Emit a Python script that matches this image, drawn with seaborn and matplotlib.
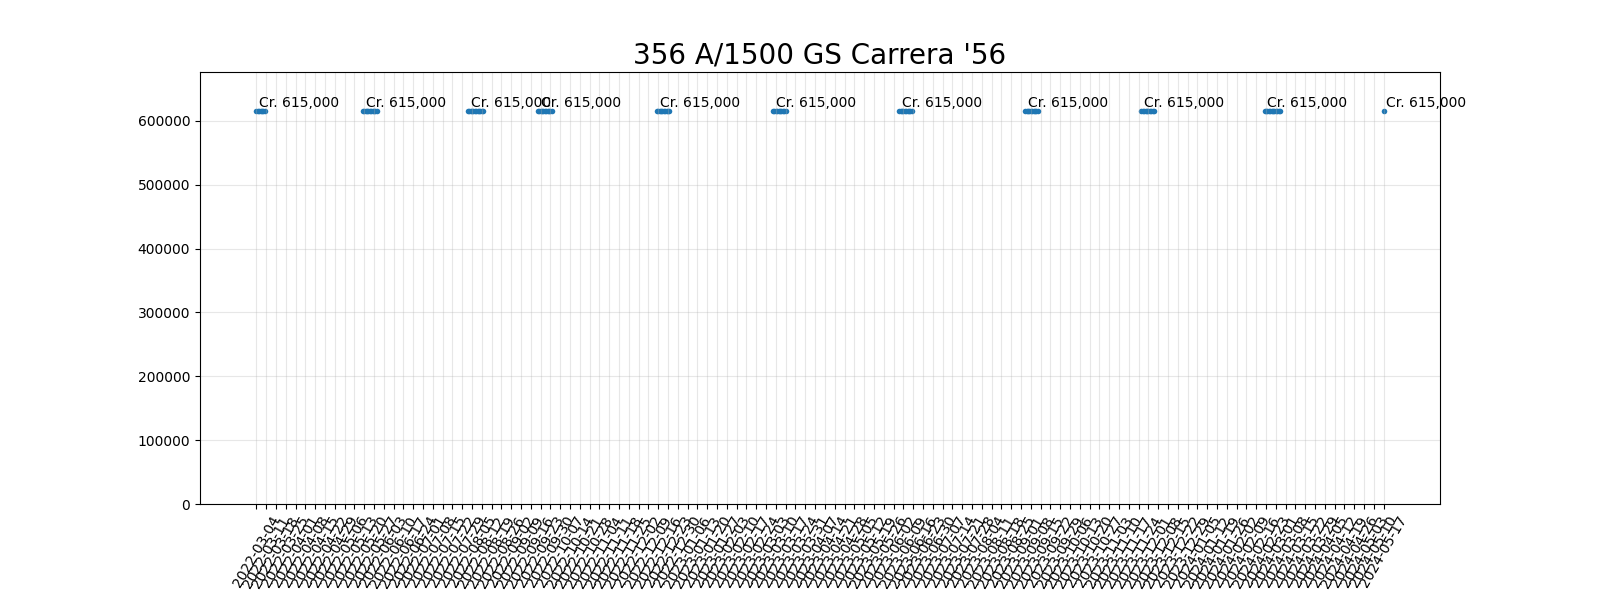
import matplotlib
matplotlib.use("Agg")
import matplotlib.pyplot as plt
import numpy as np
import pandas as pd
import seaborn as sns

title = "356 A/1500 GS Carrera '56"
price = 615000

cluster_dates = [
    ["2022-03-04", "2022-03-05", "2022-03-06", "2022-03-07", "2022-03-08", "2022-03-09", "2022-03-10"],
    ["2022-05-19", "2022-05-20", "2022-05-21", "2022-05-22", "2022-05-23", "2022-05-24", "2022-05-25",
     "2022-05-26", "2022-05-27", "2022-05-28", "2022-05-29"],
    ["2022-08-02", "2022-08-03", "2022-08-04", "2022-08-05", "2022-08-06", "2022-08-07", "2022-08-08",
     "2022-08-09", "2022-08-10", "2022-08-11", "2022-08-12", "2022-08-13"],
    ["2022-09-21", "2022-09-22", "2022-09-23", "2022-09-24", "2022-09-25", "2022-09-26", "2022-09-27",
     "2022-09-28", "2022-09-29", "2022-09-30", "2022-10-01"],
    ["2022-12-15", "2022-12-16", "2022-12-17", "2022-12-18", "2022-12-19", "2022-12-20", "2022-12-21",
     "2022-12-22", "2022-12-23", "2022-12-24"],
    ["2023-03-08", "2023-03-09", "2023-03-10", "2023-03-11", "2023-03-12", "2023-03-13", "2023-03-14",
     "2023-03-15", "2023-03-16", "2023-03-17"],
    ["2023-06-06", "2023-06-07", "2023-06-08", "2023-06-09", "2023-06-10", "2023-06-11", "2023-06-12",
     "2023-06-13", "2023-06-14", "2023-06-15"],
    ["2023-09-04", "2023-09-05", "2023-09-06", "2023-09-07", "2023-09-08", "2023-09-09", "2023-09-10",
     "2023-09-11", "2023-09-12", "2023-09-13"],
    ["2023-11-26", "2023-11-27", "2023-11-28", "2023-11-29", "2023-11-30", "2023-12-01", "2023-12-02",
     "2023-12-03", "2023-12-04", "2023-12-05"],
    ["2024-02-22", "2024-02-23", "2024-02-24", "2024-02-25", "2024-02-26", "2024-02-27", "2024-02-28",
     "2024-02-29", "2024-03-01", "2024-03-02", "2024-03-03", "2024-03-04"],
    ["2024-05-17"],
]

tick_labels = [
    "2022-03-04", "2022-03-11", "2022-03-18", "2022-03-25", "2022-04-01", "2022-04-08", "2022-04-15",
    "2022-04-22", "2022-04-29", "2022-05-06", "2022-05-13", "2022-05-20", "2022-05-27", "2022-06-03",
    "2022-06-10", "2022-06-17", "2022-06-24", "2022-07-01", "2022-07-08", "2022-07-15", "2022-07-22",
    "2022-07-29", "2022-08-05", "2022-08-12", "2022-08-19", "2022-08-26", "2022-09-02", "2022-09-09",
    "2022-09-16", "2022-09-23", "2022-09-30", "2022-10-07", "2022-10-14", "2022-10-21", "2022-10-28",
    "2022-11-04", "2022-11-11", "2022-11-18", "2022-11-25", "2022-12-02", "2022-12-09", "2022-12-16",
    "2022-12-23", "2022-12-30",
    "2023-01-06", "2023-01-13", "2023-01-20", "2023-01-27", "2023-02-03", "2023-02-10", "2023-02-17",
    "2023-02-24", "2023-03-03", "2023-03-10", "2023-03-17", "2023-03-24", "2023-03-31", "2023-04-07",
    "2023-04-14", "2023-04-21", "2023-04-28", "2023-05-05", "2023-05-12", "2023-05-19", "2023-05-26",
    "2023-06-02", "2023-06-09", "2023-06-16", "2023-06-23", "2023-06-30", "2023-07-07", "2023-07-14",
    "2023-07-21", "2023-07-28", "2023-08-04", "2023-08-11", "2023-08-18", "2023-08-25", "2023-09-01",
    "2023-09-08", "2023-09-15", "2023-09-22", "2023-09-29", "2023-10-06", "2023-10-13", "2023-10-20",
    "2023-10-27", "2023-11-03", "2023-11-10", "2023-11-17", "2023-11-24", "2023-12-01", "2023-12-08",
    "2023-12-15", "2023-12-22", "2023-12-29",
    "2024-01-05", "2024-01-12", "2024-01-19", "2024-01-26", "2024-02-02", "2024-02-09", "2024-02-16",
    "2024-02-23", "2024-03-01", "2024-03-08", "2024-03-15", "2024-03-22", "2024-03-29", "2024-04-05",
    "2024-04-12", "2024-04-19", "2024-04-26", "2024-05-03", "2024-05-10", "2024-05-17",
]

rows = []
for cluster in cluster_dates:
    for d in cluster:
        rows.append((d, price))
df = pd.DataFrame(rows, columns=["date", "price"])
df["date"] = pd.to_datetime(df["date"])

fig, ax = plt.subplots(figsize=(16, 6), dpi=100)
sns.scatterplot(data=df, x="date", y="price", ax=ax, s=16, linewidth=0, color="#1f77b4")

for cluster in cluster_dates:
    ax.annotate(f"Cr. {price:,}", (pd.Timestamp(cluster[0]), price),
                xytext=(2, 3), textcoords="offset points", fontsize=10)

ax.set_xticks(pd.to_datetime(tick_labels))
ax.set_xticklabels(tick_labels, rotation=60)
ax.set_ylim(0, price * 1.1)
ax.grid(True, alpha=0.3)
ax.set_title(title, fontsize=20)
ax.set_xlabel("")
ax.set_ylabel("")
fig.subplots_adjust(left=0.125, right=0.9, top=0.88, bottom=0.16)
fig.savefig("out.png", dpi=100)
